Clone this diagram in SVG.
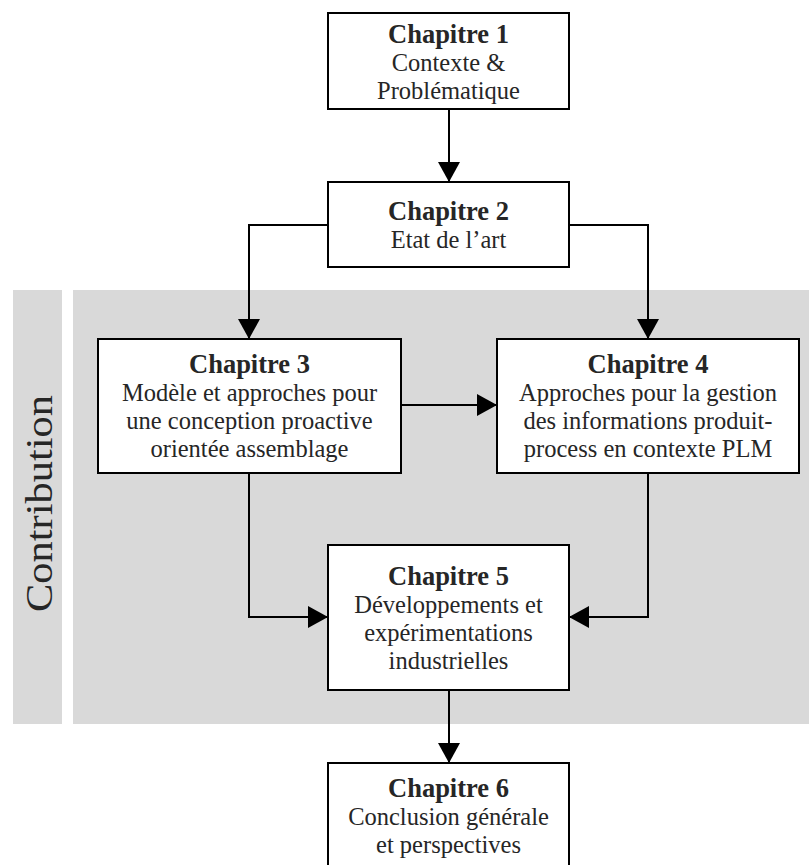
<svg xmlns="http://www.w3.org/2000/svg" width="809" height="865" viewBox="0 0 809 865">
<style>
.bg{fill:#d9d9d9}
.box{fill:#fff;stroke:#000;stroke-width:2}
.t{font-family:"Liberation Serif","Times New Roman",serif;font-size:24.5px;fill:#262626;text-anchor:middle}
.h{font-weight:bold;font-size:26.5px}
.c{fill:none;stroke:#000;stroke-width:2}
</style>
<defs>
<marker id="arr" markerUnits="userSpaceOnUse" markerWidth="22" markerHeight="22" viewBox="0 0 20 22" refX="20" refY="11" orient="auto">
<path d="M0,0 L20,11 L0,22 Z" fill="#000"/>
</marker>
</defs>
<g id="contribution-band">
<rect class="bg" x="13" y="290" width="49" height="434"/>
<rect class="bg" x="73" y="290" width="736" height="434"/>
<text class="t" x="0" y="0" transform="translate(52,503.5) rotate(-90)" style="font-size:38px" textLength="217" lengthAdjust="spacingAndGlyphs">Contribution</text>
</g>
<g id="connectors">
<path class="c" d="M449,109 V182" marker-end="url(#arr)"/>
<path class="c" d="M328,225 H249 V339" marker-end="url(#arr)"/>
<path class="c" d="M569,225 H648 V339" marker-end="url(#arr)"/>
<path class="c" d="M401,405 H497" marker-end="url(#arr)"/>
<path class="c" d="M249,473 V617 H328" marker-end="url(#arr)"/>
<path class="c" d="M648,473 V617 H569" marker-end="url(#arr)"/>
<path class="c" d="M449,690 V763" marker-end="url(#arr)"/>
</g>
<g id="chapitre1">
<rect class="box" x="328" y="13" width="241" height="96"/>
<text class="t h" x="448.5" y="43">Chapitre 1</text>
<text class="t" x="448.5" y="71">Contexte &amp;</text>
<text class="t" x="448.5" y="99">Problématique</text>
</g>
<g id="chapitre2">
<rect class="box" x="328" y="182" width="241" height="85"/>
<text class="t h" x="448.5" y="220">Chapitre 2</text>
<text class="t" x="448.5" y="248">Etat de l’art</text>
</g>
<g id="chapitre3">
<rect class="box" x="98" y="339" width="303" height="134"/>
<text class="t h" x="249.5" y="373">Chapitre 3</text>
<text class="t" x="249.5" y="401">Modèle et approches pour</text>
<text class="t" x="249.5" y="429">une conception proactive</text>
<text class="t" x="249.5" y="457">orientée assemblage</text>
</g>
<g id="chapitre4">
<rect class="box" x="497" y="339" width="302" height="134"/>
<text class="t h" x="648" y="373">Chapitre 4</text>
<text class="t" x="648" y="401">Approches pour la gestion</text>
<text class="t" x="648" y="429">des informations produit-</text>
<text class="t" x="648" y="457">process en contexte PLM</text>
</g>
<g id="chapitre5">
<rect class="box" x="328" y="545" width="241" height="145"/>
<text class="t h" x="448.5" y="585">Chapitre 5</text>
<text class="t" x="448.5" y="613">Développements et</text>
<text class="t" x="448.5" y="641">expérimentations</text>
<text class="t" x="448.5" y="669">industrielles</text>
</g>
<g id="chapitre6">
<rect class="box" x="328" y="763" width="241" height="106"/>
<text class="t h" x="448.5" y="797">Chapitre 6</text>
<text class="t" x="448.5" y="825">Conclusion générale</text>
<text class="t" x="448.5" y="853">et perspectives</text>
</g>
</svg>
